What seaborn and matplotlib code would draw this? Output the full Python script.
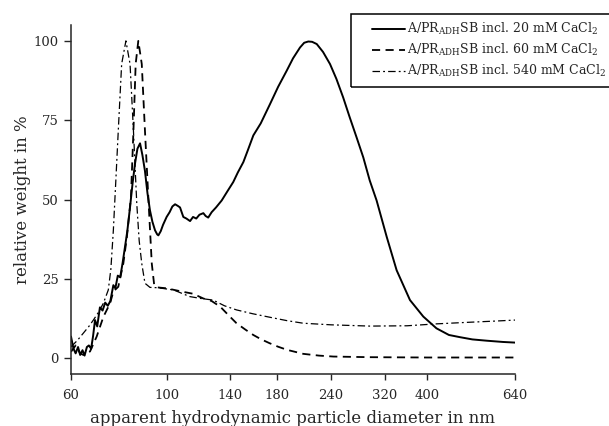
import numpy as np
import pandas as pd
import matplotlib
matplotlib.use("Agg")
import matplotlib.pyplot as plt
from matplotlib.patches import Rectangle
import seaborn as sns

# --- values (x in nm, y in %) ---
x20 = [60.0, 60.8, 61.5, 62.3, 63.0, 63.8, 64.5, 65.3, 66.0, 66.8, 67.5, 68.2, 69.0, 70.0,
       71.0, 72.0, 73.0, 74.0, 75.2, 76.0, 77.0, 78.0, 79.0, 80.0, 81.0, 82.2, 83.3, 84.4,
       85.5, 86.7, 87.8, 89.0, 90.2, 91.4, 92.6, 93.9, 95.0, 95.6, 96.8, 98.0, 99.9, 101.5,
       103.0, 104.5, 106.0, 107.3, 109.2, 111.0, 113.2, 115.0, 117.0, 119.0, 121.5, 123.0,
       124.7, 127.0, 130.0, 134.0, 138.0, 142.5, 146.0, 150.4, 154.0, 158.6, 165.0, 173.4,
       181.0, 189.5, 196.0, 203.4, 208.0, 212.6, 217.0, 222.4, 230.0, 238.7, 247.0, 256.0,
       265.0, 275.0, 285.0, 295.0, 306.0, 323.0, 340.5, 365.6, 392.5, 421.0, 450.0, 477.6,
       510.0, 550.0, 600.0, 640.0]
y20 = [6.8, 3.0, 1.5, 3.5, 1.0, 2.5, 0.8, 3.5, 4.0, 3.0, 7.0, 12.0, 10.0, 16.0,
       15.0, 17.5, 16.5, 18.0, 23.0, 22.0, 26.0, 25.5, 30.0, 35.0, 40.0, 47.6, 55.0, 61.3,
       66.0, 67.7, 64.0, 59.0, 52.0, 46.6, 43.0, 40.3, 39.0, 38.7, 40.0, 42.0, 44.5, 46.0,
       47.8, 48.5, 48.0, 47.5, 44.5, 44.0, 43.2, 44.5, 44.0, 45.2, 45.7, 44.8,
       44.3, 46.0, 47.5, 49.7, 52.5, 55.5, 58.5, 61.8, 65.5, 70.2, 74.0, 80.1,
       85.5, 90.6, 94.5, 97.9, 99.4, 99.8, 99.7, 99.0, 96.5, 92.7, 88.0, 82.2,
       76.0, 69.6, 63.3, 56.0, 49.7, 38.2, 27.7, 18.3, 13.1, 9.4, 7.3, 6.6,
       5.9, 5.5, 5.1, 4.9]

x60 = [60.0, 61.5, 63.0, 64.1, 66.4, 68.8, 71.3, 73.9, 75.2, 77.2, 79.3, 80.8, 82.6,
       83.7, 84.7, 85.9, 87.5, 89.0, 90.6, 92.3, 93.5, 95.0, 100.0, 104.0, 110.0, 115.0,
       121.5, 127.0, 133.0, 139.0, 145.0, 152.0, 158.6, 165.0, 173.0, 181.0, 190.0,
       207.0, 225.0, 243.0, 295.0, 400.0, 640.0]
y60 = [2.0, 4.0, 1.5, 1.0, 2.1, 6.8, 13.0, 17.3, 21.0, 22.5, 29.8, 38.0, 50.8,
       71.7, 92.7, 100.0, 92.7, 71.7, 50.8, 29.8, 23.0, 22.3, 22.0, 21.5, 20.8, 20.3,
       18.8, 18.0, 16.2, 13.5, 11.0, 9.0, 7.3, 6.0, 4.7, 3.6, 2.6,
       1.35, 0.8, 0.5, 0.3, 0.2, 0.2]

x540 = [60.0, 62.0, 64.1, 66.0, 67.6, 69.5, 71.3, 73.2, 74.2, 75.2, 76.2, 77.2, 78.6,
        80.4, 82.2, 83.7, 85.2, 86.3, 87.5, 89.0, 91.4, 95.0, 100.0, 103.7, 108.0, 113.0,
        120.0, 128.0, 136.0, 145.0, 158.0, 173.0, 190.0, 207.0, 240.0, 295.0, 360.0,
        421.0, 500.0, 580.0, 640.0]
y540 = [3.6, 5.5, 7.9, 10.0, 12.0, 14.5, 17.3, 21.5, 28.0, 40.3, 56.0, 71.7, 92.7,
        100.0, 92.7, 71.7, 48.7, 37.0, 29.8, 23.6, 22.3, 22.2, 21.8, 21.5, 20.5, 19.4,
        18.8, 18.3, 16.5, 15.2, 14.0, 12.9, 11.8, 11.0, 10.5, 10.1, 10.2,
        10.8, 11.3, 11.7, 12.0]

labels = [r"A/PR$_\mathregular{ADH}$SB incl. 20 mM CaCl$_\mathregular{2}$",
          r"A/PR$_\mathregular{ADH}$SB incl. 60 mM CaCl$_\mathregular{2}$",
          r"A/PR$_\mathregular{ADH}$SB incl. 540 mM CaCl$_\mathregular{2}$"]
xticks = [60, 100, 140, 180, 240, 320, 400, 640]
yticks = [0, 25, 50, 75, 100]

sns.set_style("ticks")
plt.rcParams['font.family'] = ['DejaVu Serif']
plt.rcParams['mathtext.fontset'] = 'dejavuserif'

fig = plt.figure(figsize=(6.09, 4.26), dpi=100)
ax = fig.add_axes([71 / 609, 52 / 426, 444 / 609, 349 / 426])

sns.lineplot(x=x20, y=y20, ax=ax, color="black", lw=1.4, label=labels[0])
sns.lineplot(x=x60, y=y60, ax=ax, color="black", lw=1.3, linestyle=(0, (4.5, 3)), label=labels[1])
sns.lineplot(x=x540, y=y540, ax=ax, color="black", lw=0.9, linestyle=(0, (6, 2.5, 1.5, 2.5)),
             label=labels[2])

ax.set_xscale("log")
ax.set_xlim(60, 640)
ax.set_ylim(-5, 105)
ax.set_xticks(xticks)
ax.set_xticklabels([str(t) for t in xticks])
ax.xaxis.set_minor_locator(matplotlib.ticker.NullLocator())
ax.set_yticks(yticks)
ax.tick_params(axis="x", length=4, width=1, pad=6.5, labelsize=9.5)
ax.tick_params(axis="y", length=5, width=1, pad=4, labelsize=9.5)
for s in ["left", "bottom"]:
    ax.spines[s].set_linewidth(1.1)
sns.despine(ax=ax)

ax.set_xlabel("apparent hydrodynamic particle diameter in nm", fontsize=12, labelpad=6)
ax.set_ylabel("relative weight in %", fontsize=12, labelpad=2)

leg = ax.legend(loc="upper left", bbox_to_anchor=(366 / 609, 1 - 15 / 426),
                bbox_transform=fig.transFigure, frameon=False, fontsize=9,
                handlelength=2.6, handletextpad=0.15, borderpad=0, labelspacing=0.38)
fig.patches.append(Rectangle((351 / 609, 1 - 87 / 426), 0.5, 73 / 426,
                             transform=fig.transFigure, fill=False, ec="black", lw=1.1))

plt.savefig("out.png", dpi=100)
